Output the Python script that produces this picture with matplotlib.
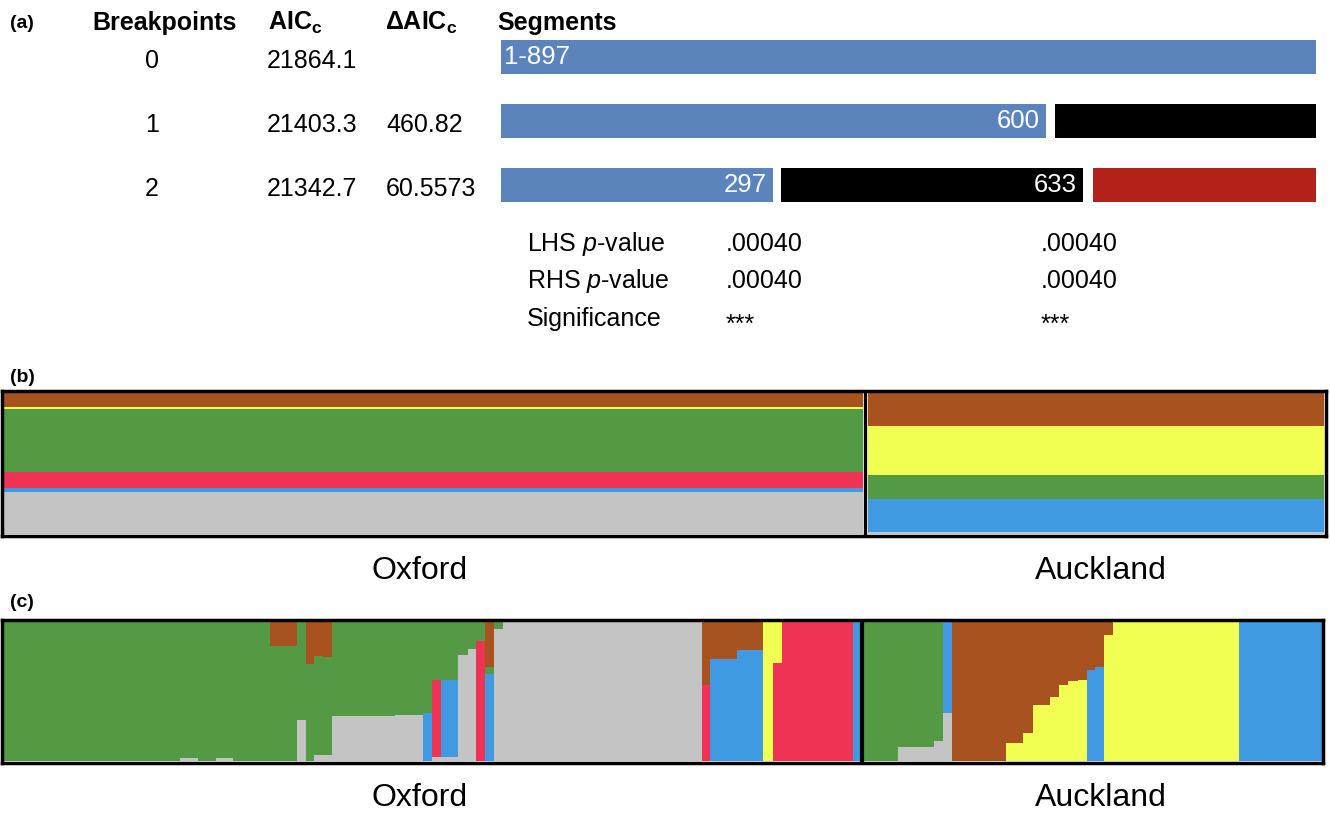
"""
Breakpoint segments (a) and STRUCTURE-style ancestry bars (b, c)
Oxford vs Auckland
"""

import matplotlib
matplotlib.use('Agg')
import matplotlib.pyplot as plt
import numpy as np

plt.rcParams['font.family'] = ['Liberation Sans', 'DejaVu Sans']
plt.rcParams['mathtext.fontset'] = 'custom'
plt.rcParams['mathtext.rm'] = 'Liberation Sans'
plt.rcParams['mathtext.it'] = 'Liberation Sans:italic'
plt.rcParams['mathtext.bf'] = 'Liberation Sans:bold'

W, H = 1330, 813

# ---------------- panel (a) data ----------------
breakpoints = ['0', '1', '2']
aicc = ['21864.1', '21403.3', '21342.7']
delta_aicc = ['', '460.82', '60.5573']
# segment extents along the 1-897 positions, as drawn
seg_starts = [[1], [1, 610], [1, 309, 652]]
seg_ends = [[897], [600, 897], [300, 641, 897]]
seg_labels = [['1-897'], ['600', ''], ['297', '633', '']]
p_row_names = ['LHS $\\mathit{p}$-value', 'RHS $\\mathit{p}$-value', 'Significance']
p_first = ['.00040', '.00040', '***']
p_second = ['.00040', '.00040', '***']

SEG_COLORS = ['#5B84BD', '#000000', '#B22219']

# ---------------- panel (b) data: population means ----------------
# cluster order, bottom to top
clusters = ['gray', 'blue', 'red', 'green', 'yellow', 'brown']
CLUSTER_COLORS = ['#C4C4C4', '#409AE1', '#EE3355', '#549A44', '#F0FF52', '#A8531F']
oxford_mean = [0.298, 0.028, 0.113, 0.447, 0.014, 0.099]
auckland_mean = [0.014, 0.234, 0.0, 0.170, 0.348, 0.234]

# ---------------- panel (c) data: individuals (grouped runs) ----------------
ox_n = [176, 18, 18, 17, 37, 27, 9, 8, 9, 9, 63, 28, 9, 9, 17, 10, 8, 9, 9, 9,
        199, 8, 27, 26, 10, 9, 71, 7]
ox_gray = [0, .02, 0, .02, 0, 0, .29, 0, .04, .04, .32, .33, 0, .03, .03, .76, .80, 0, 0, .94,
           1, 0, 0, 0, 0, 0, 0, 0]
ox_blue = [0, 0, 0, 0, 0, 0, 0, 0, 0, 0, 0, 0, .34, 0, .55, 0, 0, 0, .62, 0,
           0, 0, .73, .79, 0, 0, 0, 1]
ox_red = [0, 0, 0, 0, 0, 0, 0, 0, 0, 0, 0, 0, 0, .55, 0, 0, 0, .86, 0, 0,
          0, .54, 0, 0, 0, .70, 1, 0]
ox_green = [1, .98, 1, .98, 1, .82, .71, .69, .71, .70, .68, .67, .66, .42, .42, .24, .20, .14, .05, .06,
            0, 0, 0, 0, 0, 0, 0, 0]
ox_yellow = [0, 0, 0, 0, 0, 0, 0, 0, 0, 0, 0, 0, 0, 0, 0, 0, 0, 0, 0, 0,
             0, 0, 0, 0, 1, .30, 0, 0]
ox_brown = [0, 0, 0, 0, 0, .18, 0, .31, .25, .26, 0, 0, 0, 0, 0, 0, 0, 0, .33, 0,
            0, .46, .27, .21, 0, 0, 0, 0]

ak_n = [34, 36, 9, 9, 54, 17, 10, 17, 9, 9, 10, 9, 8, 9, 9, 126, 83]
ak_gray = [0, .10, .14, .34, 0, 0, 0, 0, 0, 0, 0, 0, 0, 0, 0, 0, 0]
ak_blue = [0, 0, 0, .66, 0, 0, 0, 0, 0, 0, 0, 0, .65, .67, 0, 0, 1]
ak_red = [0, 0, 0, 0, 0, 0, 0, 0, 0, 0, 0, 0, 0, 0, 0, 0, 0]
ak_green = [1, .90, .86, 0, 0, 0, 0, 0, 0, 0, 0, 0, 0, 0, 0, 0, 0]
ak_yellow = [0, 0, 0, 0, 0, .13, .20, .40, .46, .54, .57, .58, 0, 0, .90, 1, 0]
ak_brown = [0, 0, 0, 0, 1, .87, .80, .60, .54, .46, .43, .42, .35, .33, .10, 0, 0]

pop_names = ['Oxford', 'Auckland']

fig = plt.figure(figsize=(W / 100, H / 100), dpi=100)


def px_axes(x0, y0, x1, y1, **kw):
    return fig.add_axes([x0 / W, 1 - y1 / H, (x1 - x0) / W, (y1 - y0) / H], **kw)


def stack_bars(ax, lefts, widths, comps):
    bottom = np.zeros(len(lefts))
    for vals, col in zip(comps, CLUSTER_COLORS):
        vals = np.asarray(vals, dtype=float)
        m = vals > 0
        if m.any():
            ax.bar(np.asarray(lefts)[m], vals[m], np.asarray(widths)[m], bottom=bottom[m],
                   align='edge', color=col, linewidth=0)
        bottom += vals


def stack_steps(ax, x0, counts, comps):
    # one seamless step polygon per cluster, so neighbouring columns show no seams
    edges = x0 + np.concatenate([[0], np.cumsum(counts)])
    bottom = np.zeros(len(counts))
    for vals, col in zip(comps, CLUSTER_COLORS):
        vals = np.asarray(vals, dtype=float)
        top = bottom + vals
        if vals.any():
            ax.fill_between(edges, np.append(bottom, bottom[-1]), np.append(top, top[-1]),
                            step='post', color=col, linewidth=0)
        bottom = top


def frame(ax):
    ax.set_xticks([])
    ax.set_yticks([])
    for sp in ax.spines.values():
        sp.set_linewidth(2.5)
        sp.set_color('black')


# ---------------- (a) segment bars ----------------
ax_seg = px_axes(501, 25, 1316, 217)
for row in range(3):
    for j, (s, e) in enumerate(zip(seg_starts[row], seg_ends[row])):
        ax_seg.barh(row, e - s, left=s, height=0.52, color=SEG_COLORS[j], linewidth=0)
        lab = seg_labels[row][j]
        if not lab:
            continue
        if row == 0:
            ax_seg.annotate(lab, xy=(s, row), xytext=(3, 0), textcoords='offset pixels',
                            ha='left', va='center', color='white', fontsize=18.5)
        else:
            ax_seg.annotate(lab, xy=(e, row), xytext=(-6, 0), textcoords='offset pixels',
                            ha='right', va='center', color='white', fontsize=18.5)
ax_seg.set_xlim(1, 897)
ax_seg.set_ylim(2.5, -0.5)
ax_seg.axis('off')

# ---------------- (b) population means ----------------
ax_b = px_axes(2, 391.5, 1326, 536)
stack_bars(ax_b, [0, 864], [859, 456],
           [[o, a] for o, a in zip(oxford_mean, auckland_mean)])
ax_b.axvline(860.5, color='black', lw=2.4)
ax_b.set_xlim(-2, 1322)
ax_b.set_ylim(-0.014, 1.011)
frame(ax_b)

# ---------------- (c) individuals ----------------
ax_c = px_axes(2, 619.5, 1322.5, 763)
stack_steps(ax_c, 0, ox_n, [ox_gray, ox_blue, ox_red, ox_green, ox_yellow, ox_brown])
stack_steps(ax_c, 860, ak_n, [ak_gray, ak_blue, ak_red, ak_green, ak_yellow, ak_brown])
ax_c.axvline(858, color='black', lw=3)
ax_c.set_xlim(-2, 1318.5)
ax_c.set_ylim(-0.014, 1.011)
frame(ax_c)

# ---------------- text overlay (pixel coordinates) ----------------
ax_t = px_axes(0, 0, W, H, zorder=5)
ax_t.set_xlim(0, W)
ax_t.set_ylim(H, 0)
ax_t.axis('off')

ax_t.text(10, 28, '(a)', fontsize=14, fontweight='bold')
ax_t.text(92, 30, 'Breakpoints', fontsize=18, fontweight='bold')
ax_t.text(268, 30, 'AIC$_\\mathbf{c}$', fontsize=18, fontweight='bold')
ax_t.text(385, 30, '\u0394AIC$_\\mathbf{c}$', fontsize=18, fontweight='bold')
ax_t.text(497, 30, 'Segments', fontsize=18, fontweight='bold')

for i, base in enumerate([68, 132, 196]):
    ax_t.text(152, base, breakpoints[i], fontsize=18, ha='center')
    ax_t.text(267, base, aicc[i], fontsize=18)
    ax_t.text(386, base, delta_aicc[i], fontsize=18)

for i, base in enumerate([251, 288, 326]):
    shift = 6 if p_first[i] == '***' else 0
    ax_t.text(527, base, p_row_names[i], fontsize=18)
    ax_t.text(726, base + shift, p_first[i], fontsize=18)
    ax_t.text(1041, base + shift, p_second[i], fontsize=18)

ax_t.text(10, 382, '(b)', fontsize=14, fontweight='bold')
ax_t.text(10, 607, '(c)', fontsize=14, fontweight='bold')

for base in [579, 806]:
    ax_t.text(420, base, pop_names[0], fontsize=23, ha='center')
    ax_t.text(1101, base, pop_names[1], fontsize=23, ha='center')

plt.savefig('out.png', dpi=100)
print("Saved out.png")
